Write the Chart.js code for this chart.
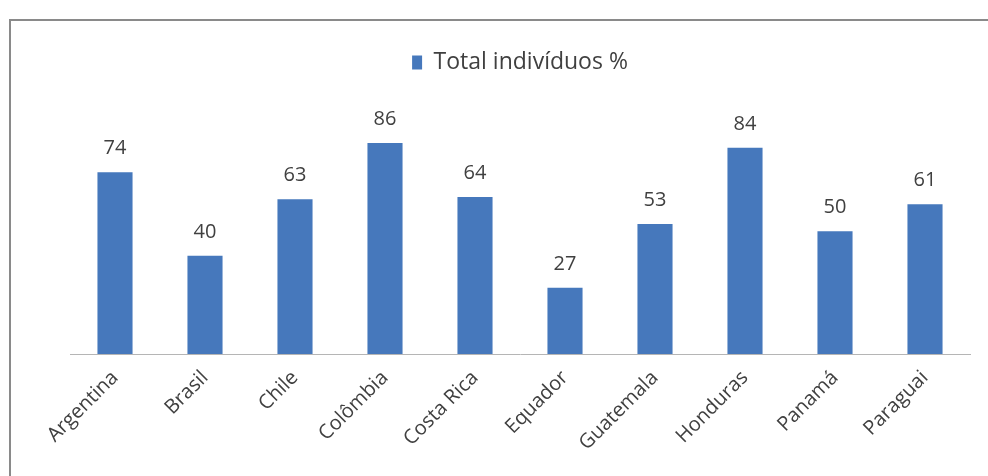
<!DOCTYPE html>
<html>
<head>
<meta charset="utf-8">
<script src="https://cdn.jsdelivr.net/npm/chart.js@4/dist/chart.umd.min.js"></script>
<style>
    html, body { margin: 0; padding: 0; background: #fff; }
    .wrap { position: relative; width: 988px; height: 476px; }
    .frame {
        position: absolute; left: 9px; top: 19px; right: 0; bottom: 0;
        border-top: 2px solid #8a8a8a; border-left: 2px solid #8a8a8a;
    }
    canvas { position: absolute; left: 0; top: 0; }
</style>
</head>
<body>
<div class="wrap">
    <div class="frame"></div>
    <canvas id="chart" width="988" height="476"></canvas>
</div>
<script>
// Data
const countries = ['Argentina', 'Brasil', 'Chile', 'Colômbia', 'Costa Rica', 'Equador', 'Guatemala', 'Honduras', 'Panamá', 'Paraguai'];
const totalValues = [74, 40, 63, 86, 64, 27, 53, 84, 50, 61];
const seriesName = 'Total indivíduos %';

const barColor = '#4678bc';
const textColor = '#404040';

// Draw value labels above each bar
const valueLabels = {
    id: 'valueLabels',
    afterDatasetsDraw(chart) {
        const ctx = chart.ctx;
        const meta = chart.getDatasetMeta(0);
        ctx.save();
        ctx.font = '20px "Open Sans"';
        ctx.fillStyle = textColor;
        ctx.textAlign = 'center';
        ctx.textBaseline = 'alphabetic';
        meta.data.forEach((bar, i) => {
            ctx.fillText(totalValues[i], bar.x, bar.y - 18);
        });
        ctx.restore();
    }
};

new Chart(document.getElementById('chart'), {
    type: 'bar',
    data: {
        labels: countries,
        datasets: [{
            label: seriesName,
            data: totalValues,
            backgroundColor: barColor,
            borderWidth: 0,
            barPercentage: 0.39,
            categoryPercentage: 1
        }]
    },
    options: {
        responsive: false,
        animation: false,
        layout: {
            padding: { left: 70, right: 18, top: 41, bottom: 0 }
        },
        plugins: {
            legend: {
                position: 'top',
                labels: {
                    boxWidth: 10,
                    boxHeight: 14,
                    color: textColor,
                    font: { family: 'Open Sans', size: 23 }
                }
            },
            tooltip: { enabled: false }
        },
        scales: {
            x: {
                grid: { display: false },
                border: { display: true, color: '#b5b5b5', width: 1 },
                ticks: {
                    color: textColor,
                    font: { family: 'Open Sans', size: 20 },
                    maxRotation: 45,
                    minRotation: 45,
                    padding: 4
                },
                afterFit: function(scale) { scale.height = 122; }
            },
            y: {
                display: false,
                min: 0,
                max: 110
            }
        }
    },
    plugins: [valueLabels]
});
</script>
</body>
</html>
